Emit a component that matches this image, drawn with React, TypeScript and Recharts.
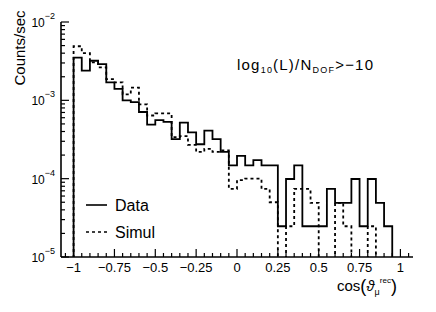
import { LineChart, Line, XAxis, YAxis, Legend, Customized } from 'recharts'

// lower edge of each 0.05 bin in cos(theta)
const binLow = [
  -1, -0.95, -0.9, -0.85, -0.8, -0.75, -0.7, -0.65, -0.6, -0.55,
  -0.5, -0.45, -0.4, -0.35, -0.3, -0.25, -0.2, -0.15, -0.1, -0.05,
  0, 0.05, 0.1, 0.15, 0.2, 0.25, 0.3, 0.35, 0.4, 0.45,
  0.5, 0.55, 0.6, 0.65, 0.7, 0.75, 0.8, 0.85, 0.9, 0.95,
]

// counts/sec, 0 = empty bin
const dataRate = [
  3.5e-3, 2.4e-3, 3.2e-3, 2.9e-3, 1.7e-3, 1.4e-3, 1.0e-3, 9.5e-4, 7.1e-4, 4.9e-4,
  5.6e-4, 5.3e-4, 3.2e-4, 5.2e-4, 3.9e-4, 2.75e-4, 4.1e-4, 3.2e-4, 2.2e-4, 1.48e-4,
  1.95e-4, 1.48e-4, 1.72e-4, 1.48e-4, 1.48e-4, 2.47e-5, 9.9e-5, 1.48e-4, 2.47e-5, 2.47e-5,
  2.47e-5, 7.4e-5, 4.9e-5, 4.9e-5, 9.9e-5, 2.47e-5, 9.9e-5, 4.9e-5, 2.47e-5, 0,
]

const simulRate = [
  4.9e-3, 4.0e-3, 3.06e-3, 2.64e-3, 1.86e-3, 1.7e-3, 1.19e-3, 1.45e-3, 8.9e-4, 6.4e-4,
  6.8e-4, 6.8e-4, 3.4e-4, 3.5e-4, 2.7e-4, 2.2e-4, 2.4e-4, 2.2e-4, 2.3e-4, 7.4e-5,
  9.6e-5, 1.0e-4, 1.0e-4, 7.4e-5, 5.0e-5, 0, 2.47e-5, 7.4e-5, 7.4e-5, 4.9e-5,
  0, 0, 4.9e-5, 2.47e-5, 0, 0, 2.47e-5, 0, 0, 0,
]

const xTicks = [
  -1.05, -1, -0.95, -0.9, -0.85, -0.8, -0.75, -0.7, -0.65, -0.6, -0.55,
  -0.5, -0.45, -0.4, -0.35, -0.3, -0.25, -0.2, -0.15, -0.1, -0.05,
  0, 0.05, 0.1, 0.15, 0.2, 0.25, 0.3, 0.35, 0.4, 0.45,
  0.5, 0.55, 0.6, 0.65, 0.7, 0.75, 0.8, 0.85, 0.9, 0.95, 1, 1.05,
]
const xMajor = [-1, -0.75, -0.5, -0.25, 0, 0.25, 0.5, 0.75, 1]
const xLabels = ['−1', '−0.75', '−0.5', '−0.25', '0', '0.25', '0.5', '0.75', '1']

const yTicks = [
  1e-5, 2e-5, 3e-5, 4e-5, 5e-5, 6e-5, 7e-5, 8e-5, 9e-5,
  1e-4, 2e-4, 3e-4, 4e-4, 5e-4, 6e-4, 7e-4, 8e-4, 9e-4,
  1e-3, 2e-3, 3e-3, 4e-3, 5e-3, 6e-3, 7e-3, 8e-3, 9e-3,
  1e-2,
]
const yMajor = [1e-5, 1e-4, 1e-3, 1e-2]
const yExp = ['−5', '−4', '−3', '−2']

const series = [
  { key: 'data', name: 'Data', dash: undefined },
  { key: 'simul', name: 'Simul', dash: '3 3' },
]

const FLOOR = 1e-8 // stands in for empty bins on the log axis
const v = (r: number) => (r > 0 ? r : FLOOR)

const rows = [
  { x: -1, data: FLOOR, simul: FLOOR },
  ...binLow.map((x, i) => ({ x, data: v(dataRate[i]), simul: v(simulRate[i]) })),
  { x: 1, data: v(dataRate[dataRate.length - 1]), simul: v(simulRate[simulRate.length - 1]) },
]

const FONT = "'Liberation Sans', Arial, Helvetica, sans-serif"
const X_DOMAIN = [-1.077, 1.077]
const Y_DOMAIN = [1e-5, 1e-2]

const XTick = (props: any) => {
  const { x, y, payload } = props
  const i = xMajor.indexOf(payload.value)
  const len = i >= 0 ? 8 : 4
  return (
    <g>
      <line x1={x} x2={x} y1={y} y2={y - len} stroke="#000" strokeWidth={1.2} />
      {i >= 0 && (
        <text x={x} y={y + 15} textAnchor="middle" fontSize={13} fontFamily={FONT} fill="#000">
          {xLabels[i]}
        </text>
      )}
    </g>
  )
}

const YTick = (props: any) => {
  const { x, y, payload } = props
  const i = yMajor.indexOf(payload.value)
  const len = i >= 0 ? 8 : 4
  return (
    <g>
      <line x1={x} x2={x + len} y1={y} y2={y} stroke="#000" strokeWidth={1.2} />
      {i >= 0 && (
        <text x={x - 6} y={y + 5} textAnchor="end" fontSize={12} fontFamily={FONT} fill="#000">
          10
          <tspan fontSize={9} dy={-8}>
            {yExp[i]}
          </tspan>
        </text>
      )}
    </g>
  )
}

const renderLegend = () => (
  <svg width={90} height={55} style={{ overflow: 'visible' }}>
    {series.map((s, i) => (
      <g key={s.key}>
        <line x1={6} x2={27} y1={12 + i * 27} y2={12 + i * 27} stroke="#000" strokeWidth={1.6} strokeDasharray={s.dash} />
        <text x={35} y={18 + i * 27} fontSize={16} fontFamily={FONT} fill="#000">
          {s.name}
        </text>
      </g>
    ))}
  </svg>
)

const Labels = () => (
  <g fontFamily={FONT} fill="#000">
    <text x={25} y={48} fontSize={15} textAnchor="middle" transform="rotate(-90, 25, 48)">
      Counts/sec
    </text>
    <text x={237} y={70} fontSize={15} textLength={136} lengthAdjust="spacing">
      log
      <tspan fontSize={9} dy={3}>10</tspan>
      <tspan dy={-3}>(L)/N</tspan>
      <tspan fontSize={9} dy={3}>DOF</tspan>
      <tspan dy={-3}>{'>−10'}</tspan>
    </text>
    <text x={337} y={291} fontSize={15}>
      cos
      <tspan fontSize={18} dy={1}>(</tspan>
      <tspan fontStyle="italic" dy={-1}>ϑ</tspan>
      <tspan fontSize={9} dy={4}>μ</tspan>
      <tspan fontSize={8} dy={-12}>rec</tspan>
      <tspan fontSize={18} dy={9}>)</tspan>
    </text>
  </g>
)

export default function App() {
  return (
    <div style={{ position: 'absolute', left: 0, top: 0, background: '#fff' }}>
      <LineChart width={436} height={312} data={rows} margin={{ top: 22, right: 23, bottom: 0, left: 0 }}>
        <XAxis
          dataKey="x"
          type="number"
          domain={X_DOMAIN}
          ticks={xTicks}
          interval={0}
          tick={<XTick />}
          tickLine={false}
          tickSize={0}
          tickMargin={0}
          height={55}
          axisLine={{ stroke: '#000', strokeWidth: 1.6 }}
        />
        <XAxis
          xAxisId="top"
          orientation="top"
          type="number"
          domain={X_DOMAIN}
          tick={false}
          tickLine={false}
          height={0}
          axisLine={{ stroke: '#000', strokeWidth: 1.6 }}
        />
        <YAxis
          type="number"
          scale="log"
          domain={Y_DOMAIN}
          allowDataOverflow
          ticks={yTicks}
          interval={0}
          tick={<YTick />}
          tickLine={false}
          tickSize={0}
          tickMargin={0}
          width={61}
          axisLine={{ stroke: '#000', strokeWidth: 1.6 }}
        />
        <YAxis
          yAxisId="right"
          orientation="right"
          type="number"
          scale="log"
          domain={Y_DOMAIN}
          allowDataOverflow
          tick={false}
          tickLine={false}
          width={0}
          axisLine={{ stroke: '#000', strokeWidth: 1.6 }}
        />
        {series.map((s) => (
          <Line
            key={s.key}
            dataKey={s.key}
            name={s.name}
            type="stepAfter"
            stroke="#000"
            strokeWidth={1.8}
            strokeDasharray={s.dash}
            dot={false}
            activeDot={false}
            isAnimationActive={false}
          />
        ))}
        <Legend
          layout="horizontal"
          verticalAlign="middle"
          align="center"
          content={renderLegend}
          wrapperStyle={{ left: 80, top: 193, width: 90, height: 55 }}
        />
        <Customized component={Labels} />
      </LineChart>
    </div>
  )
}
